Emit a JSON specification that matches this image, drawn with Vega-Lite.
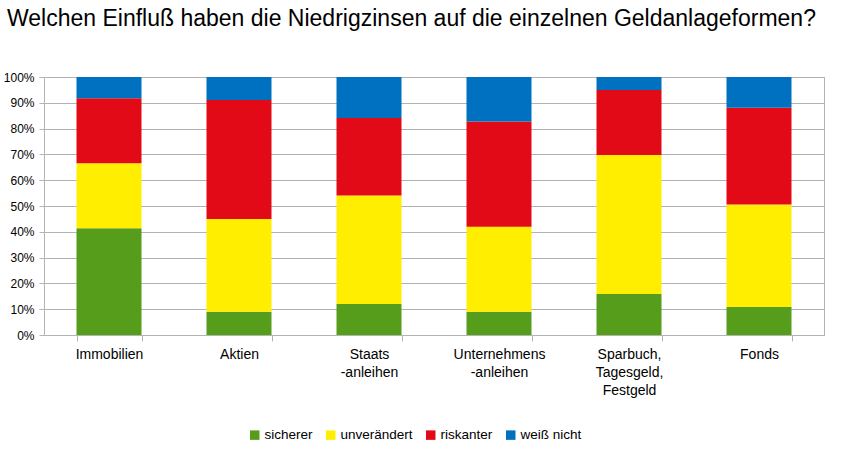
{
  "$schema": "https://vega.github.io/schema/vega-lite/v6.json",
  "autosize": {"type": "none"},
  "width": 780,
  "height": 258,
  "padding": {"left": 44, "top": 77, "right": 21, "bottom": 117},
  "background": "white",
  "title": {
    "text": "Welchen Einfluß haben die Niedrigzinsen auf die einzelnen Geldanlageformen?",
    "anchor": "start",
    "frame": "group",
    "dx": -37,
    "offset": 22,
    "baseline": "alphabetic",
    "font": "Liberation Sans",
    "fontSize": 23,
    "fontWeight": "normal",
    "color": "#000000"
  },
  "data": {
    "values": [
      {"kategorie": "Immobilien", "status": "sicherer", "o": 1, "wert": 41.4},
      {"kategorie": "Immobilien", "status": "unverändert", "o": 2, "wert": 25.2},
      {"kategorie": "Immobilien", "status": "riskanter", "o": 3, "wert": 25.2},
      {"kategorie": "Immobilien", "status": "weiß nicht", "o": 4, "wert": 8.2},
      {"kategorie": "Aktien", "status": "sicherer", "o": 1, "wert": 9.0},
      {"kategorie": "Aktien", "status": "unverändert", "o": 2, "wert": 36.0},
      {"kategorie": "Aktien", "status": "riskanter", "o": 3, "wert": 46.1},
      {"kategorie": "Aktien", "status": "weiß nicht", "o": 4, "wert": 8.9},
      {"kategorie": "Staats|-anleihen", "status": "sicherer", "o": 1, "wert": 12.0},
      {"kategorie": "Staats|-anleihen", "status": "unverändert", "o": 2, "wert": 42.1},
      {"kategorie": "Staats|-anleihen", "status": "riskanter", "o": 3, "wert": 30.0},
      {"kategorie": "Staats|-anleihen", "status": "weiß nicht", "o": 4, "wert": 15.9},
      {"kategorie": "Unternehmens|-anleihen", "status": "sicherer", "o": 1, "wert": 9.0},
      {"kategorie": "Unternehmens|-anleihen", "status": "unverändert", "o": 2, "wert": 33.0},
      {"kategorie": "Unternehmens|-anleihen", "status": "riskanter", "o": 3, "wert": 40.8},
      {"kategorie": "Unternehmens|-anleihen", "status": "weiß nicht", "o": 4, "wert": 17.2},
      {"kategorie": "Sparbuch,|Tagesgeld,|Festgeld", "status": "sicherer", "o": 1, "wert": 15.9},
      {"kategorie": "Sparbuch,|Tagesgeld,|Festgeld", "status": "unverändert", "o": 2, "wert": 53.9},
      {"kategorie": "Sparbuch,|Tagesgeld,|Festgeld", "status": "riskanter", "o": 3, "wert": 25.2},
      {"kategorie": "Sparbuch,|Tagesgeld,|Festgeld", "status": "weiß nicht", "o": 4, "wert": 5.0},
      {"kategorie": "Fonds", "status": "sicherer", "o": 1, "wert": 10.9},
      {"kategorie": "Fonds", "status": "unverändert", "o": 2, "wert": 39.7},
      {"kategorie": "Fonds", "status": "riskanter", "o": 3, "wert": 37.5},
      {"kategorie": "Fonds", "status": "weiß nicht", "o": 4, "wert": 11.9}
    ]
  },
  "mark": {"type": "bar"},
  "encoding": {
    "x": {
      "field": "kategorie",
      "type": "nominal",
      "sort": null,
      "scale": {"paddingInner": 0.5, "paddingOuter": 0.25},
      "axis": {
        "title": null,
        "labelAngle": 0,
        "labelExpr": "split(datum.label, '|')",
        "labelFont": "Liberation Sans",
        "labelFontSize": 14,
        "labelColor": "#000000",
        "labelLineHeight": 18,
        "labelPadding": 6,
        "labelBaseline": "top",
        "tickBand": "extent",
        "tickColor": "#b3b3b3",
        "tickSize": 6,
        "domainColor": "#b3b3b3",
        "grid": false
      }
    },
    "y": {
      "field": "wert",
      "type": "quantitative",
      "stack": "normalize",
      "scale": {"domain": [0, 1]},
      "axis": {
        "title": null,
        "format": ".0%",
        "values": [0, 0.1, 0.2, 0.3, 0.4, 0.5, 0.6, 0.7, 0.8, 0.9, 1],
        "labelFont": "Liberation Sans",
        "labelFontSize": 12,
        "labelColor": "#000000",
        "labelPadding": 5,
        "tickColor": "#b3b3b3",
        "tickSize": 5,
        "domainColor": "#b3b3b3",
        "gridColor": "#b3b3b3",
        "grid": true
      }
    },
    "color": {
      "field": "status",
      "type": "nominal",
      "scale": {
        "domain": ["sicherer", "unverändert", "riskanter", "weiß nicht"],
        "range": ["#579d1c", "#ffee00", "#e30a17", "#0070c0"]
      },
      "legend": {
        "title": null,
        "orient": "none",
        "direction": "horizontal",
        "legendX": 204,
        "legendY": 351,
        "symbolType": "square",
        "symbolSize": 90,
        "symbolStrokeWidth": 0,
        "labelFont": "Liberation Sans",
        "labelFontSize": 13.5,
        "labelColor": "#000000",
        "labelOffset": 3,
        "columnPadding": 11
      }
    },
    "order": {"field": "o", "type": "quantitative"}
  },
  "config": {
    "view": {"stroke": "#b3b3b3"},
    "axis": {"gridWidth": 1}
  }
}
